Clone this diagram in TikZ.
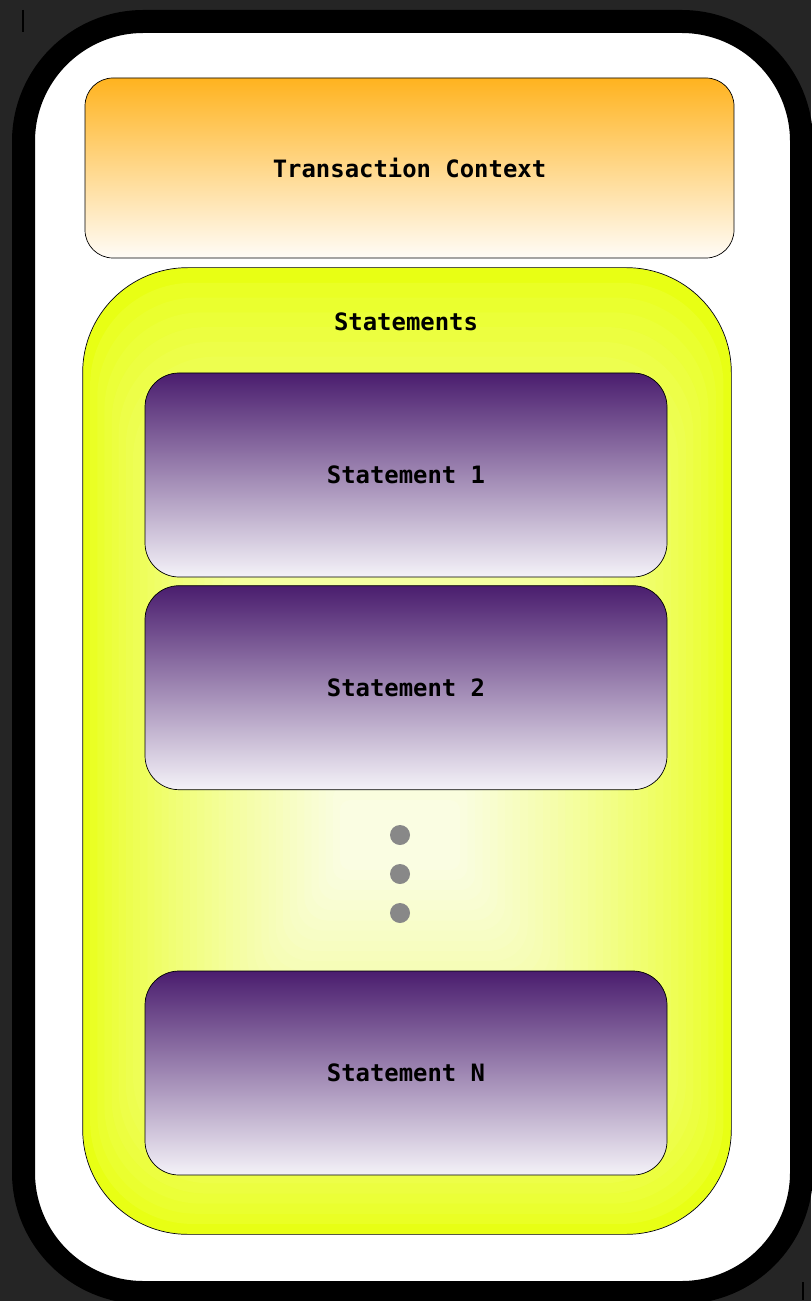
\documentclass[tikz,border=0pt]{standalone}
\usepackage{fontspec}
\setmonofont{DejaVu Sans Mono}
\usetikzlibrary{positioning}

\definecolor{bggrey}{HTML}{252525}
\definecolor{ctxtop}{HTML}{FFB31F}
\definecolor{ctxbottom}{HTML}{FFFCF7}
\definecolor{stmttop}{HTML}{4A1D6E}
\definecolor{stmtbottom}{HTML}{F4F2F8}
\definecolor{glowin}{HTML}{FAFDE2}
\definecolor{glowout}{HTML}{E8FF14}
\definecolor{dotgrey}{HTML}{888888}

\tikzset{
  boxtext/.style={font=\ttfamily\bfseries\fontsize{13.6}{16}\selectfont},
  stmt/.style={rectangle, draw, rounded corners=0.68cm, minimum width=10.44cm, minimum height=4.08cm, top color=stmttop, bottom color=stmtbottom, boxtext},
  dot/.style={circle, fill=dotgrey, inner sep=0pt, minimum size=0.4cm}
}

\begin{document}
\begin{tikzpicture}
\useasboundingbox (0,0) rectangle (16.22,-26.02);
\fill[bggrey] (0,0) rectangle (16.22,-26.02);

% frame
\draw[fill=white, line width=0.46cm, rounded corners=2.4cm] (0.47,-0.43) rectangle (16.03,-25.85);
\draw[black, line width=0.6pt] (0.46,-0.2) -- (0.46,-0.64);
\draw[black, line width=0.6pt] (16.06,-25.64) -- (16.06,-26.0);

\node[rectangle, draw, rounded corners=0.56cm, minimum width=12.98cm, minimum height=3.6cm, top color=ctxtop, bottom color=ctxbottom, boxtext] (ctx) at (8.19,-3.36) {Transaction Context};

\node[rectangle, rounded corners=2.1cm, minimum width=12.96cm, minimum height=19.32cm, fill=glowout] (stmts) at (8.14,-15.02) {};
% glow: nested boxes shrinking towards the dots
\begin{scope}
    \clip[rounded corners=2.1cm] (stmts.south west) rectangle (stmts.north east);
    \foreach \i in {0,...,36}{
        \pgfmathsetmacro\t{\i/36}
        \pgfmathsetmacro\pct{100*(\t^0.7)}
        \pgfmathsetmacro\xa{1.66+\t*(6.8-1.66)}
        \pgfmathsetmacro\xb{14.62-\t*(14.62-9.2)}
        \pgfmathsetmacro\ya{-5.36-\t*(16.0-5.36)}
        \pgfmathsetmacro\yb{-24.68+\t*(24.68-17.4)}
        \pgfmathsetmacro\rc{2.1-1.9*\t}
        \fill[glowin!\pct!glowout, rounded corners=\rc cm] (\xa,\ya) rectangle (\xb,\yb);
    }
\end{scope}
\draw[rounded corners=2.1cm] (stmts.south west) rectangle (stmts.north east);
\node[boxtext] (stmtstitle) at (8.12,-6.44) {Statements};

\node[stmt] (st1) at (8.12,-9.5) {Statement 1};
\node[stmt, below=0.16cm of st1] (st2) {Statement 2};

    \foreach \i/\y in {1/-16.7, 2/-17.48, 3/-18.26}
        \node[dot] (dot\i) at (8.0,\y) {};

\node[stmt] (stN) at (8.12,-21.46) {Statement N};
\end{tikzpicture}
\end{document}
